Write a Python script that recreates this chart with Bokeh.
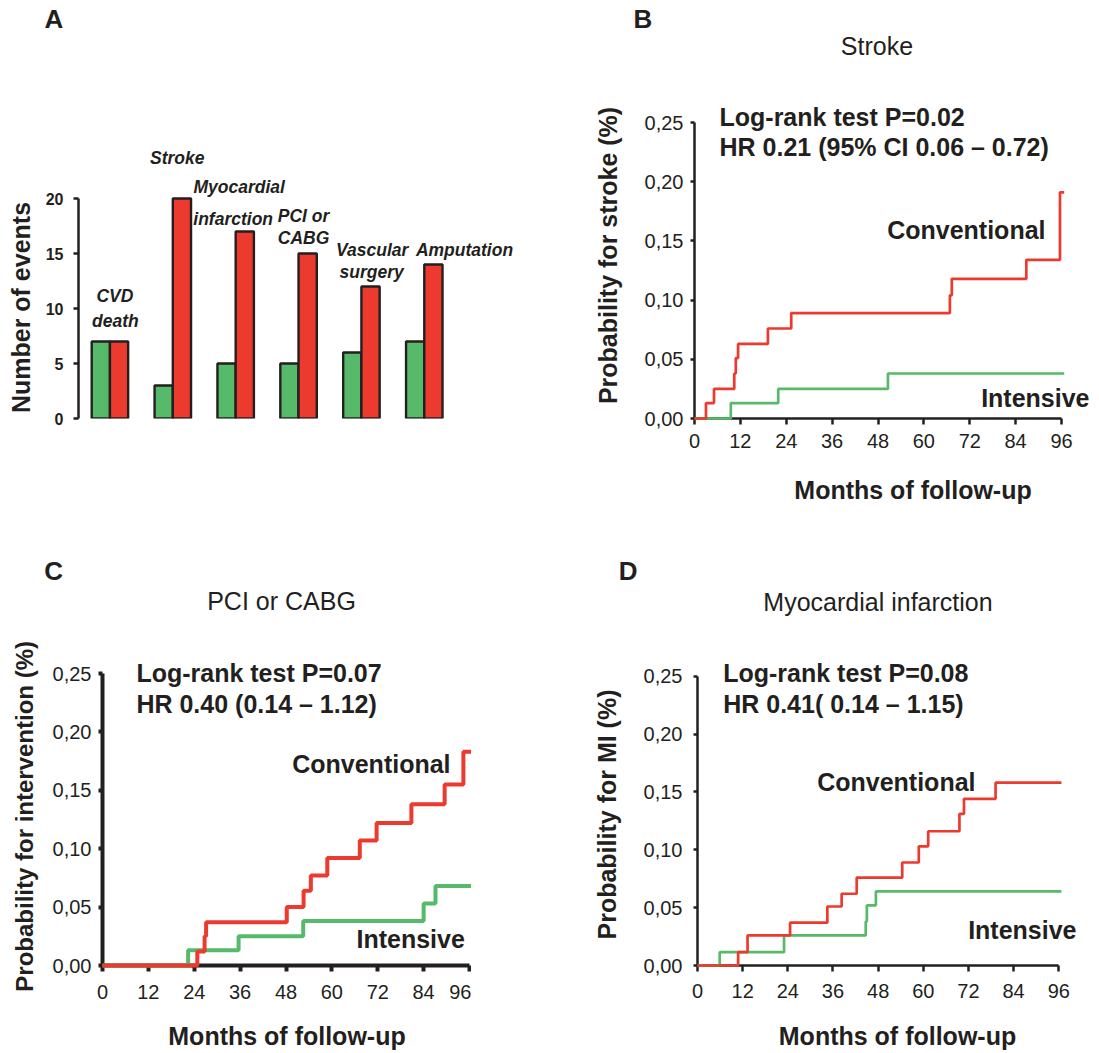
import math
from bokeh.plotting import figure
from bokeh.models import Label, FixedTicker, Range1d, ColumnDataSource, Title
from bokeh.layouts import row, column
from bokeh.transform import dodge
from bokeh.embed import file_html
from bokeh.resources import INLINE

# ---------------- data ----------------
# Panel A: number of events
categories = ["CVD death", "Stroke", "Myocardial infarction", "PCI or CABG", "Vascular surgery", "Amputation"]
category_lines = [["CVD", "death"], ["Stroke"], ["Myocardial", "infarction"], ["PCI or", "CABG"],
                  ["Vascular", "surgery"], ["Amputation"]]
intensive_events = [7, 3, 5, 5, 6, 7]
conventional_events = [7, 20, 17, 15, 12, 14]
count_ticks = [0, 5, 10, 15, 20]

# Kaplan-Meier panels
month_ticks = [0, 12, 24, 36, 48, 60, 72, 84, 96]
prob_ticks = [0.0, 0.05, 0.10, 0.15, 0.20, 0.25]
prob_tick_labels = ["0,00", "0,05", "0,10", "0,15", "0,20", "0,25"]

# B: stroke
stroke_conv_months = [0, 3.0, 5.1, 10.4, 10.8, 11.4, 19.2, 25.3, 66.8, 67.3, 86.8, 95.6, 96.7]
stroke_conv_prob = [0, 0.013, 0.025, 0.038, 0.051, 0.063, 0.076, 0.089, 0.104, 0.118, 0.134, 0.191, 0.191]
stroke_int_months = [0, 9.5, 21.9, 50.6, 96.7]
stroke_int_prob = [0, 0.013, 0.025, 0.038, 0.038]

# C: PCI or CABG
pci_conv_months = [0, 24.8, 26.7, 27.1, 48.2, 52.6, 54.5, 58.8, 67.3, 71.7, 80.8, 89.5, 94.4, 97.0]
pci_conv_prob = [0, 0.012, 0.025, 0.037, 0.050, 0.064, 0.077, 0.092, 0.107, 0.122, 0.138, 0.155, 0.183, 0.183]
pci_int_months = [0, 22.4, 35.6, 52.5, 84.0, 87.1, 97.0]
pci_int_prob = [0, 0.013, 0.025, 0.038, 0.053, 0.068, 0.068]

# D: myocardial infarction
mi_conv_months = [0, 10.8, 13.3, 24.6, 34.5, 38.3, 42.3, 54.4, 58.8, 61.3, 69.6, 70.8, 79.2, 96.7]
mi_conv_prob = [0, 0.0115, 0.026, 0.037, 0.051, 0.062, 0.076, 0.089, 0.103, 0.116, 0.131, 0.144, 0.158, 0.158]
mi_int_months = [0, 5.9, 23.0, 44.7, 45.0, 47.4, 96.7]
mi_int_prob = [0, 0.0115, 0.026, 0.038, 0.052, 0.064, 0.064]

# ---------------- style ----------------
INK = "#231F20"
RED = "#EC3A2F"
GREEN = "#56BA6A"
FONT = "Liberation Sans"
TOP_ROW_H, BOT_ROW_H = 538, 515
TOP_BORDER_1, TOP_BORDER_2 = 33, 47


def make_panel(ox, oy, w, h, left, top, right, bottom, xr, yr):
    p = figure(width=w, height=h, x_range=Range1d(*xr), y_range=Range1d(*yr),
               output_backend="svg", toolbar_location=None,
               min_border_left=left, min_border_right=right,
               min_border_top=top, min_border_bottom=bottom)
    p.title.visible = False
    p.outline_line_color = None
    p.grid.visible = False
    p.background_fill_color = "white"
    p.border_fill_color = "white"
    fw = w - left - right
    fh = h - top - bottom
    sx = fw / (xr[1] - xr[0])
    sy = fh / (yr[1] - yr[0])
    FL = ox + left
    FB = oy + h - bottom

    def to(px, py):
        return xr[0] + (px - FL) / sx, yr[0] + (FB - py) / sy
    return p, to


def lab(p, to, text, px, py, size, style="bold", align="left", angle=0.0):
    x, y = to(px, py)
    p.add_layout(Label(x=x, y=y, text=text, text_font=FONT, text_font_size=f"{size}px",
                       text_font_style=style, text_align=align, text_baseline="middle",
                       angle=angle, text_color=INK))


def side_title(p, text, side, size, offset, standoff, valign, style="bold"):
    p.add_layout(Title(text=text, align="left", offset=offset, standoff=standoff,
                       vertical_align=valign, text_font=FONT, text_font_size=f"{size}px",
                       text_font_style=style, text_color=INK), side)


def style_axis(ax, lw, tick_out, standoff, size, style="normal"):
    ax.axis_line_width = lw
    ax.axis_line_color = INK
    ax.major_tick_line_color = INK
    ax.major_tick_line_width = lw
    ax.major_tick_out = tick_out
    ax.major_tick_in = 0
    ax.minor_tick_line_color = None
    ax.major_label_standoff = standoff
    ax.major_label_text_font = FONT
    ax.major_label_text_font_size = f"{size}px"
    ax.major_label_text_font_style = style
    ax.major_label_text_color = INK


# ---------------- Panel A ----------------
# frame: x 77..560 (63 px per group), y 33..418 (11 px per event)
fhA = 418 - TOP_BORDER_1
pA, toA = make_panel(0, 0, 560, TOP_ROW_H, 77, TOP_BORDER_1, 0, TOP_ROW_H - 418,
                     (-0.5, -0.5 + 483 / 63), (0, fhA / 11))
srcA = ColumnDataSource(dict(g=list(range(len(categories))), cat=categories,
                             intensive=intensive_events, conventional=conventional_events))
pA.vbar(x=dodge("g", -0.145, range=pA.x_range), top="intensive", width=0.29, bottom=0,
        source=srcA, fill_color=GREEN, line_color=INK, line_width=2.4)
pA.vbar(x=dodge("g", 0.145, range=pA.x_range), top="conventional", width=0.29, bottom=0,
        source=srcA, fill_color=RED, line_color=INK, line_width=2.4)
pA.xaxis.visible = False
pA.yaxis.ticker = FixedTicker(ticks=count_ticks)
pA.yaxis.bounds = (0, 20)
style_axis(pA.yaxis[0], 2.5, 5, 10, 16, "bold")
side_title(pA, "A", "above", 26, -34, 0, "bottom")
side_title(pA, "Number of events", "left", 25, 5.4, 12, "top")
catA_pos = [[(113.5, 295.8), (114, 320.8)], [(176, 157.5)], [(238, 186.7), (232, 218.8)],
            [(302.5, 215), (302.5, 237.5)], [(371.3, 249.3), (370.8, 271.5)], [(463.8, 249.3)]]
for lines, poss in zip(category_lines, catA_pos):
    for t, (px, py) in zip(lines, poss):
        lab(pA, toA, t, px, py, 17.5, style="bold italic", align="center")


# ---------------- KM panels ----------------
def km_panel(geom, x_end, y_end, lw_axis, lw_line, xstand, ystand, conv, inten):
    ox, oy, w, h, left, top, right, bottom = geom
    p, to = make_panel(ox, oy, w, h, left, top, right, bottom, (0, x_end), (0, y_end))
    p.xaxis.ticker = FixedTicker(ticks=month_ticks)
    p.xaxis.bounds = (0, 96)
    p.yaxis.ticker = FixedTicker(ticks=prob_ticks)
    p.yaxis.bounds = (0, 0.25)
    p.yaxis.major_label_overrides = {t: s for t, s in zip(prob_ticks, prob_tick_labels)}
    style_axis(p.xaxis[0], lw_axis, 6, xstand, 20)
    style_axis(p.yaxis[0], lw_axis, 4, ystand, 20)
    p.step(x=inten[0], y=inten[1], mode="after", line_color=GREEN, line_width=lw_line, level="overlay")
    p.step(x=conv[0], y=conv[1], mode="after", line_color=RED, line_width=lw_line, level="overlay")
    return p, to


# B: frame x 694..1097, y 33..418 ; 96 months -> 367 px ; 0.25 -> 296 px
pB, toB = km_panel((560, 0, 537, TOP_ROW_H, 134, TOP_BORDER_1, 0, TOP_ROW_H - 418),
                   403 / (367 / 96), fhA / (296 / 0.25), 2.5, 2.7, 9, 7,
                   (stroke_conv_months, stroke_conv_prob), (stroke_int_months, stroke_int_prob))
side_title(pB, "B", "above", 26, -61, 0, "bottom")
side_title(pB, "Probability for stroke (%)", "left", 25, 14.4, 35, "top")
side_title(pB, "Months of follow-up", "below", 25, 99.8, 50, "top")
lab(pB, toB, "Stroke", 876.5, 45, 25, style="normal", align="center")
lab(pB, toB, "Log-rank test P=0.02", 719, 116.3, 25)
lab(pB, toB, "HR 0.21 (95% CI 0.06 \u2013 0.72)", 719, 146.7, 25)
lab(pB, toB, "Conventional", 1045, 229, 25, align="right")
lab(pB, toB, "Intensive", 1089, 397, 25, align="right")

# bottom row frame: y 585..965
fh2 = 965 - (TOP_ROW_H + TOP_BORDER_2)
bb2 = TOP_ROW_H + BOT_ROW_H - 965
# C: frame x 101..471 ; 96 months -> 368 px ; 0.25 -> 292 px
pC, toC = km_panel((0, TOP_ROW_H, 471, BOT_ROW_H, 101, TOP_BORDER_2, 0, bb2),
                   370 / (368 / 96), fh2 / (292 / 0.25), 4, 4, 13, 7,
                   (pci_conv_months, pci_conv_prob), (pci_int_months, pci_int_prob))
side_title(pC, "C", "above", 26, -58.3, 0, "bottom")
side_title(pC, "Probability for intervention (%)", "left", 24, -26.2, 20, "top")
pC.xaxis.axis_label = "Months of follow-up"
lab(pC, toC, "PCI or CABG", 280.5, 600, 25, style="normal", align="center")
lab(pC, toC, "Log-rank test P=0.07", 135, 672.8, 25)
lab(pC, toC, "HR 0.40 (0.14 \u2013 1.12)", 135, 703, 25)
lab(pC, toC, "Conventional", 450, 763.8, 25, align="right")
lab(pC, toC, "Intensive", 464.3, 938.7, 25, align="right")

# D: frame x 697..1097 ; 96 months -> 361.3 px ; 0.25 -> 289.3 px
pD, toD = km_panel((471, TOP_ROW_H, 626, BOT_ROW_H, 226, TOP_BORDER_2, 0, bb2),
                   400 / (361.3 / 96), fh2 / (289.3 / 0.25), 2.5, 2.7, 12, 11,
                   (mi_conv_months, mi_conv_prob), (mi_int_months, mi_int_prob))
side_title(pD, "D", "above", 26, -78.7, 0, "bottom")
side_title(pD, "Probability for MI (%)", "left", 25, 26, 35, "top")
pD.xaxis.axis_label = "Months of follow-up"
lab(pD, toD, "Myocardial infarction", 877.5, 601, 25, style="normal", align="center")
lab(pD, toD, "Log-rank test P=0.08", 722.7, 672, 25)
lab(pD, toD, "HR 0.41( 0.14 \u2013 1.15)", 722.7, 703, 25)
lab(pD, toD, "Conventional", 975, 781.2, 25, align="right")
lab(pD, toD, "Intensive", 1076, 929.7, 25, align="right")

for ax, stand in ((pC.xaxis[0], 20), (pD.xaxis[0], 21)):
    ax.axis_label_standoff = stand
    ax.axis_label_text_font = FONT
    ax.axis_label_text_font_size = "25px"
    ax.axis_label_text_font_style = "bold"
    ax.axis_label_text_color = INK

layout = column(row(pA, pB), row(pC, pD))
open("out.html", "w").write(file_html(layout, INLINE))
